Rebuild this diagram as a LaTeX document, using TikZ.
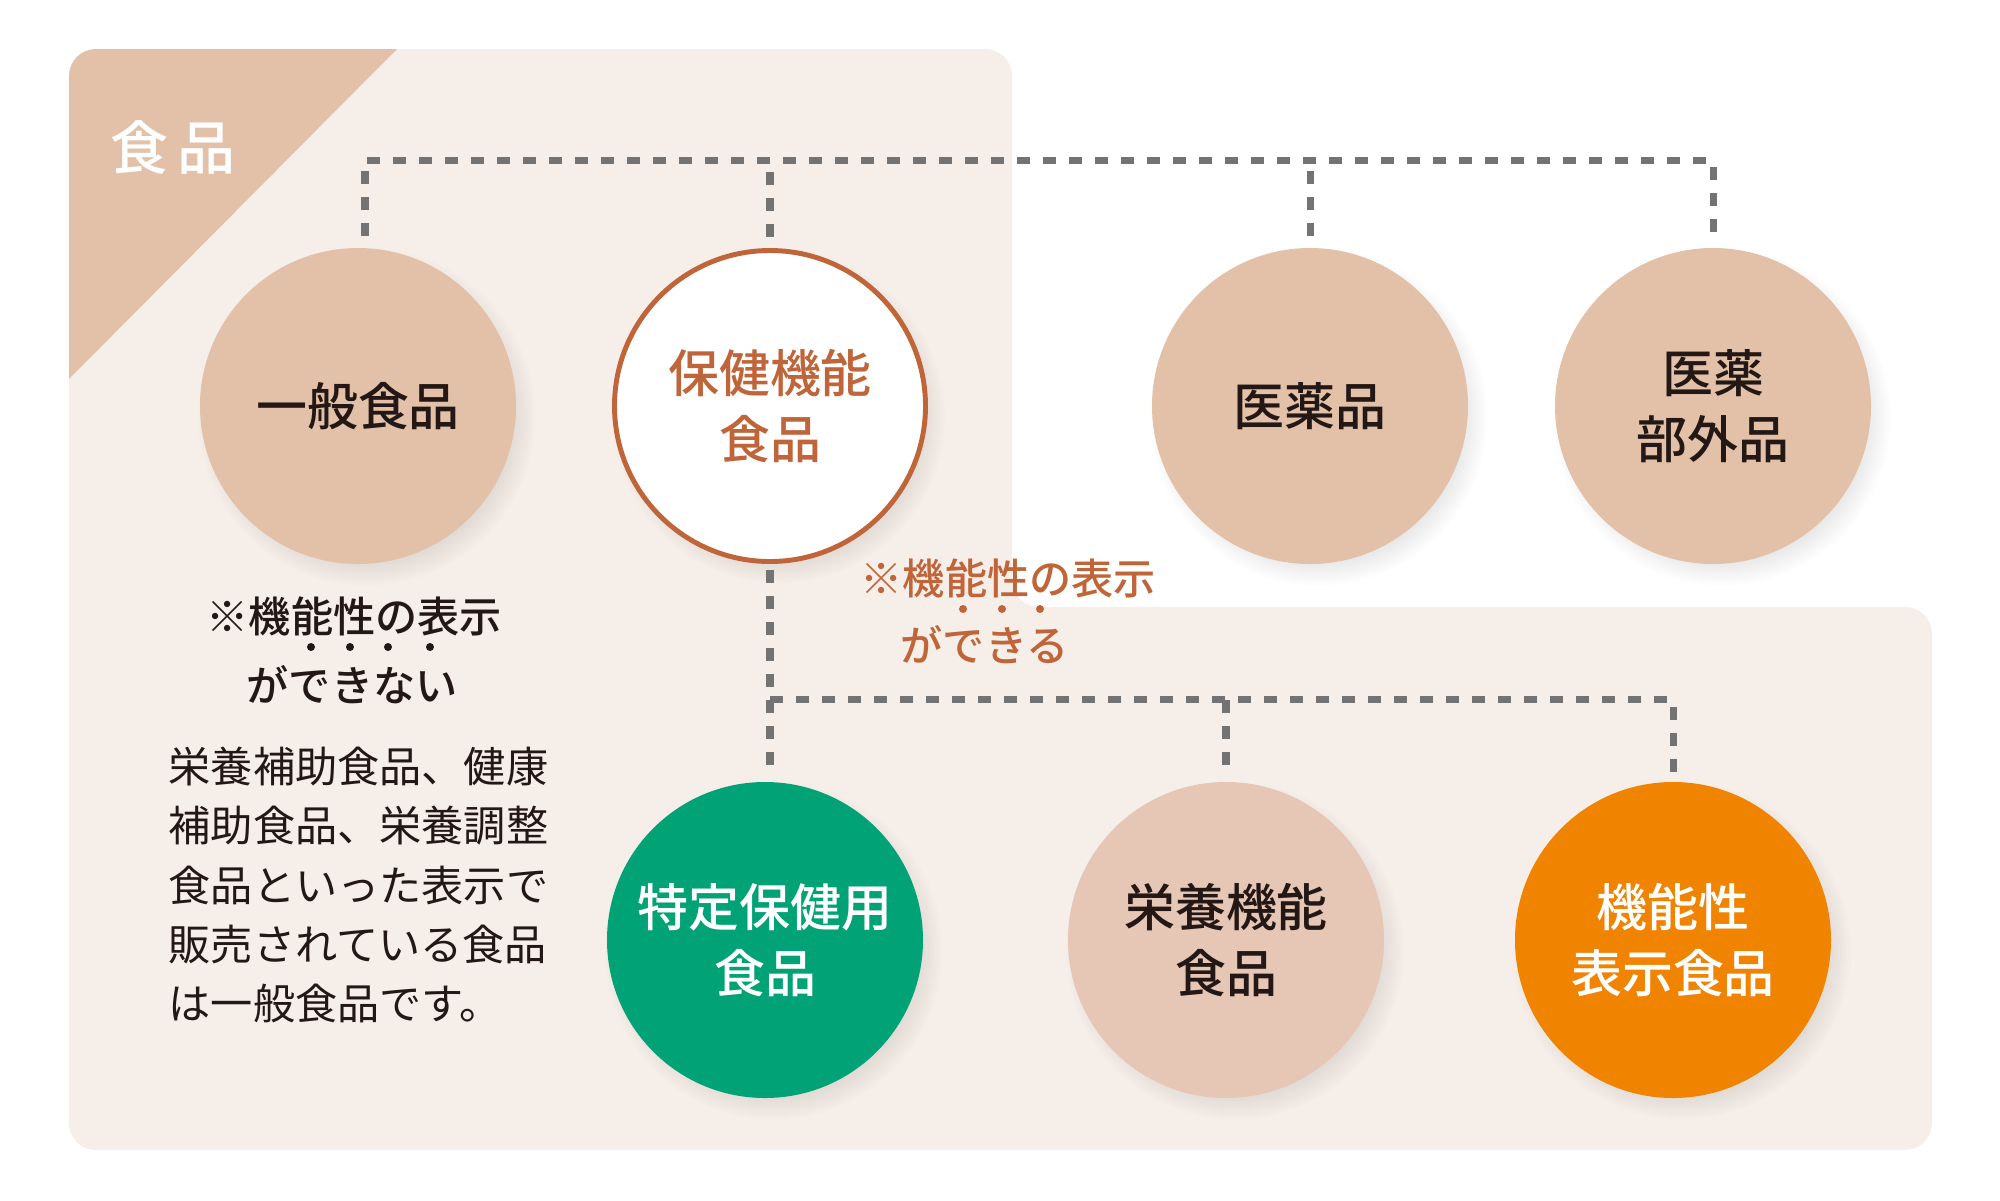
\documentclass[tikz,border=0pt]{standalone}
\usepackage{fontspec}
\setmainfont{Noto Sans CJK JP}[BoldFont={Noto Sans CJK JP Medium}]
\usepackage{tikz}
\usetikzlibrary{calc, positioning, shadows}
\definecolor{panelBg}{HTML}{F6EEE8}
\definecolor{tanFill}{HTML}{E2C1A8}
\definecolor{pinkFill}{HTML}{E6C6B5}
\definecolor{tokuhoGreen}{HTML}{00A276}
\definecolor{kinouOrange}{HTML}{F08300}
\definecolor{hokenBrown}{HTML}{C0653A}
\definecolor{inkDark}{HTML}{231815}
\definecolor{linkGray}{HTML}{737373}
\tikzset{
    bubble/.style={circle, minimum size=3.16cm, inner sep=0pt, align=center, font=\fontsize{14.5pt}{18.8pt}\selectfont\bfseries, circular drop shadow={shadow xshift=0.08cm, shadow yshift=-0.1cm, shadow scale=1.07, opacity=0.18}},
    foodBubble/.style={bubble, fill=tanFill, text=inkDark},
    hokenBubble/.style={bubble, fill=white, draw=hokenBrown, line width=1.4pt, minimum size=3.11cm, text=hokenBrown},
    tokuhoBubble/.style={bubble, fill=tokuhoGreen, text=white},
    eiyouBubble/.style={bubble, fill=pinkFill, text=inkDark},
    kinouBubble/.style={bubble, fill=kinouOrange, text=white},
    link/.style={draw=linkGray, line width=2pt, dash pattern=on 3.7pt off 3.7pt},
    note/.style={inner sep=0pt, anchor=west, font=\fontsize{12pt}{15pt}\selectfont\bfseries},
    body/.style={inner sep=0pt, anchor=north west, align=left, font=\fontsize{12pt}{16.9pt}\selectfont, text=inkDark}
}

\begin{document}
\begin{tikzpicture}
    \useasboundingbox[fill=white] (0,0) rectangle (20,-12);

    % Panel (food area)
    \fill[panelBg, rounded corners=0.27cm] (0.69,-0.49) -- (10.12,-0.49) -- (10.12,-6.07) -- (19.32,-6.07) -- (19.32,-11.50) -- (0.69,-11.50) -- cycle;
    \begin{scope}
        \clip[rounded corners=0.27cm] (0.69,-0.49) rectangle (10.12,-11.50);
        \fill[tanFill] (0.69,-0.49) -- (3.97,-0.49) -- (0.69,-3.79) -- cycle;
    \end{scope}
    \node[text=white, font=\fontsize{16.5pt}{20pt}\selectfont\bfseries] (title) at (1.73,-1.47) {食\hspace{0.16em}品};

    % Bubbles
    \node[foodBubble] (ippan) at (3.58,-4.06) {一般食品};
    \node[hokenBubble] (hoken) at (7.70,-4.06) {保健機能\\食品};
    \node[foodBubble] (iyaku) at (13.10,-4.06) {医薬品};
    \node[foodBubble] (bugai) at (17.13,-4.06) {医薬\\部外品};
    \node[tokuhoBubble] (tokuho) at (7.65,-9.40) {特定保健用\\食品};
    \node[eiyouBubble] (eiyou) at (12.26,-9.40) {栄養機能\\食品};
    \node[kinouBubble] (kinou) at (16.73,-9.40) {機能性\\表示食品};

    % Upper links
    \draw[link] ([shift={(0.07,0.11)}]ippan.north) -- ++(0,0.76) coordinate (bus) -| ([yshift=0.11cm]bugai.north);
    \foreach \n in {hoken, iyaku}
        \draw[link] ([yshift=0.11cm]\n.north) -- (\n.north |- bus);

    % Lower links
    \draw[link] ([yshift=-0.06cm]hoken.south) -- ++(0,-1.30) coordinate (lbus) -- ([yshift=0.08cm]hoken.south |- tokuho.north);
    \draw[link] (lbus) -| ([yshift=0.08cm]kinou.north);
    \draw[link] (eiyou.north |- lbus) -- ([yshift=0.08cm]eiyou.north);

    % Notes
    \node[note, text=inkDark] (ng1) at (2.06,-6.16) {※機能性の表示};
    \node[note, text=inkDark] (ng2) at ($(ng1.west)+(0.40,-0.69)$) {ができない};
    \foreach \d in {0.65, 1.04, 1.42, 1.84}
        \fill[inkDark] ($(ng2.west)+(\d,0.38)$) circle (0.04);
    \node[note, text=hokenBrown] (ok1) at (8.60,-5.78) {※機能性の表示};
    \node[note, text=hokenBrown] (ok2) at ($(ok1.west)+(0.40,-0.67)$) {ができる};
    \foreach \d in {0.63, 1.02, 1.40}
        \fill[hokenBrown] ($(ok2.west)+(\d,0.36)$) circle (0.04);

    \node[body] (expl) at (1.68,-7.46) {栄養補助食品、健康\\補助食品、栄養調整\\食品といった表示で\\販売されている食品\\は一般食品です。};
\end{tikzpicture}
\end{document}
